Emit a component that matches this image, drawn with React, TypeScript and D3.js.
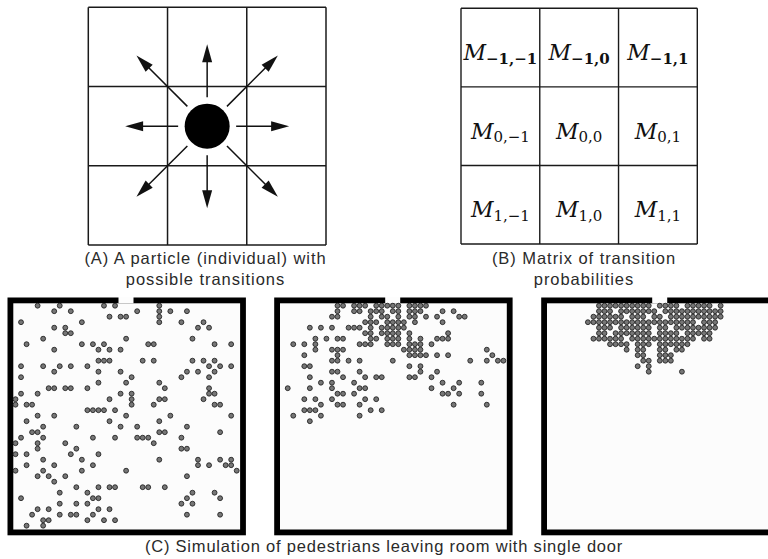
import React from "react";
import * as d3 from "d3";

// ---------- data ----------
const transitionSteps = [-1, 0, 1]; // row / column offsets of the Moore neighbourhood
const captionA = ["(A) A particle (individual) with", "possible transitions"];
const captionB = ["(B) Matrix of transition", "probabilities"];
const captionC = "(C) Simulation of pedestrians leaving room with single door";

// occupied cells per grid row: [row, columns[]]
const room1Rows: [number, number[]][] = [
  [0, [4, 8, 16, 18, 26]],
  [1, [7, 10, 22, 26, 28, 31]],
  [2, [17, 19, 20, 26]],
  [3, [1, 12, 26, 30, 34]],
  [4, [7, 9, 33, 35]],
  [5, [9, 10]],
  [6, [5, 20, 32]],
  [7, [2, 12, 14, 16, 24, 25, 36, 39]],
  [8, [7, 15, 17, 19]],
  [10, [15, 16, 17, 23, 25, 32, 34, 36]],
  [11, [1, 5, 8, 10, 13, 35, 37, 39]],
  [12, [7, 15, 19, 31, 33, 36]],
  [13, [1, 21, 30, 35]],
  [14, [15, 20, 26]],
  [15, [6, 7, 9, 10, 13, 27, 35]],
  [16, [1, 4, 19, 21, 35, 36]],
  [17, [0, 17, 21, 26, 27, 34]],
  [18, [0, 2, 3, 21, 25, 36, 37]],
  [19, [13, 14, 15, 16, 18]],
  [20, [4, 7, 20, 28, 39]],
  [21, [2, 17, 26]],
  [22, [5, 11, 19, 22, 31]],
  [23, [3, 4, 26, 27, 37]],
  [24, [1, 5, 14, 18, 22, 23, 24, 30]],
  [25, [0, 4, 9, 25]],
  [26, [4, 11, 30, 31]],
  [27, [0, 2, 10, 15]],
  [28, [5, 12, 26, 33, 37, 39]],
  [29, [2, 7, 14, 33, 35, 38, 39]],
  [30, [0, 5, 12, 20, 40]],
  [31, [4, 6, 9, 31]],
  [32, [7]],
  [33, [11, 15, 17, 18, 23, 24, 27]],
  [34, [8, 13, 32, 36]],
  [35, [1, 14, 15, 31, 37]],
  [36, [8, 11, 13, 30, 32]],
  [37, [4, 6, 15, 17]],
  [38, [3, 8, 10, 11, 14, 31, 37]],
  [39, [5, 6, 13, 16, 18]],
  [40, [2, 5]],
];

const room2Rows: [number, number[]][] = [
  [0, [10, 11, 13, 14, 15, 17, 18, 19, 20, 21, 23, 24, 25, 26]],
  [1, [10, 13, 14, 16, 17, 18, 20, 21, 23, 24, 25, 29, 31]],
  [2, [9, 10, 16, 18, 19, 21, 23, 24, 26, 28, 32, 33]],
  [3, [15, 16, 17, 19, 20, 21, 22, 24, 29]],
  [4, [5, 7, 9, 12, 13, 14, 16, 18, 19, 20, 21, 22]],
  [5, [15, 16, 18, 19, 20, 21, 23, 30]],
  [6, [6, 8, 10, 11, 16, 17, 19, 20, 21, 23, 25, 28, 29, 30]],
  [7, [2, 4, 6, 14, 15, 16, 19, 20, 21, 23, 24, 25, 27]],
  [8, [6, 9, 10, 11, 22, 23, 24, 25, 37]],
  [9, [4, 10, 23, 24, 25, 26, 28, 30, 38]],
  [10, [9, 10, 12, 14, 20, 34, 37, 39, 40]],
  [11, [4, 5, 23, 25]],
  [12, [9, 10, 14, 25, 28]],
  [13, [5, 11, 15, 17, 18, 23, 24, 27]],
  [14, [7, 9, 13, 29, 32, 36]],
  [15, [1, 5, 9, 14, 15, 27, 31]],
  [16, [10, 11, 13, 29, 30, 32, 36]],
  [17, [4, 6, 9, 15, 17]],
  [18, [7, 10, 11, 14, 31, 37]],
  [19, [4, 5, 6, 16, 18]],
  [20, [2, 7, 14]],
  [21, [5]],
];

const room3Rows: [number, number[]][] = [
  [0, [9, 10, 11, 12, 13, 14, 15, 16, 17, 18, 20, 21, 22, 23, 25, 26, 27, 28, 29, 31]],
  [1, [9, 10, 11, 13, 14, 15, 16, 17, 18, 19, 21, 22, 23, 24, 25, 26, 27, 28, 29, 30, 31]],
  [2, [8, 9, 10, 11, 12, 13, 15, 16, 17, 19, 20, 22, 23, 24, 25, 26, 27, 28, 29, 30, 31]],
  [3, [7, 8, 9, 10, 11, 12, 13, 14, 15, 16, 17, 18, 19, 20, 21, 22, 23, 24, 25, 26, 28, 29, 30]],
  [4, [9, 10, 11, 13, 14, 15, 16, 17, 18, 20, 21, 23, 24, 25, 26, 27, 28, 29, 30]],
  [5, [9, 10, 12, 13, 14, 15, 16, 17, 18, 20, 21, 22, 23, 25, 26, 27, 28, 29]],
  [6, [8, 9, 10, 11, 12, 13, 15, 16, 17, 18, 19, 20, 21, 22, 23, 24, 25, 26, 28, 29]],
  [7, [11, 12, 13, 14, 16, 17, 18, 20, 21, 22, 23, 24, 25]],
  [8, [14, 16, 17, 20, 21, 23, 24]],
  [9, [16, 17, 20, 21, 22]],
  [10, [17, 18, 20, 21, 22]],
  [11, [16, 18]],
  [12, [18, 24]],
];

const rooms = [room1Rows, room2Rows, room3Rows];

// ---------- layout ----------
const W = 768;
const H = 559;
const SANS = "'Liberation Sans', Arial, Helvetica, sans-serif";
const SERIF = "'DejaVu Serif', 'Liberation Serif', serif";
const TEXT_COLOR = "#2a2a2a";

const fmt = (n: number) => (n < 0 ? "\u2212" + Math.abs(n) : String(n));

function Arrow({ x1, y1, x2, y2 }: { x1: number; y1: number; x2: number; y2: number }) {
  const ang = Math.atan2(y2 - y1, x2 - x1);
  const L = 18;
  const hw = 5;
  const bx = x2 - L * Math.cos(ang);
  const by = y2 - L * Math.sin(ang);
  const px = -Math.sin(ang) * hw;
  const py = Math.cos(ang) * hw;
  return (
    <g>
      <line x1={x1} y1={y1} x2={bx + 2 * Math.cos(ang)} y2={by + 2 * Math.sin(ang)} stroke="#111" strokeWidth={1.5} />
      <polygon points={`${x2},${y2} ${bx + px},${by + py} ${bx - px},${by - py}`} fill="#111" />
    </g>
  );
}

function PanelA() {
  const gx = d3.scaleLinear().domain([0, 3]).range([88.3, 326]);
  const gy = d3.scaleLinear().domain([0, 3]).range([7.3, 245]);
  const cx = gx(1.5);
  const cy = gy(1.5);
  const lines = d3.range(4);
  const arrows: { dr: number; dc: number }[] = [];
  transitionSteps.forEach((dr) =>
    transitionSteps.forEach((dc) => {
      if (dr !== 0 || dc !== 0) arrows.push({ dr, dc });
    })
  );
  return (
    <g>
      {lines.map((i) => (
        <line key={"v" + i} x1={gx(i)} x2={gx(i)} y1={gy(0)} y2={gy(3)} stroke="#1a1a1a" strokeWidth={1.5} />
      ))}
      {lines.map((i) => (
        <line key={"h" + i} y1={gy(i)} y2={gy(i)} x1={gx(0)} x2={gx(3)} stroke="#1a1a1a" strokeWidth={1.5} />
      ))}
      {arrows.map(({ dr, dc }, i) => {
        const diag = dr !== 0 && dc !== 0;
        const len = Math.hypot(dr, dc);
        const ux = dc / len;
        const uy = dr / len;
        const r0 = diag ? 28 : 29;
        const r1 = diag ? 100 : 82;
        return <Arrow key={i} x1={cx + ux * r0} y1={cy + uy * r0} x2={cx + ux * r1} y2={cy + uy * r1} />;
      })}
      <circle cx={cx} cy={cy} r={22.5} fill="#000" />
      {captionA.map((t, i) => (
        <text key={i} x={205.5} y={264 + i * 20.5} textAnchor="middle" fontFamily={SANS} fontSize={16.5}
          letterSpacing={0.95} fill={TEXT_COLOR}>{t}</text>
      ))}
    </g>
  );
}

function PanelB() {
  const gx = d3.scaleLinear().domain([0, 3]).range([461, 697.3]);
  const gy = d3.scaleLinear().domain([0, 3]).range([8.3, 244]);
  const lines = d3.range(4);
  return (
    <g>
      {lines.map((i) => (
        <line key={"v" + i} x1={gx(i)} x2={gx(i)} y1={gy(0)} y2={gy(3)} stroke="#1a1a1a" strokeWidth={1.4} />
      ))}
      {lines.map((i) => (
        <line key={"h" + i} y1={gy(i)} y2={gy(i)} x1={gx(0)} x2={gx(3)} stroke="#1a1a1a" strokeWidth={1.4} />
      ))}
      {transitionSteps.map((r, ri) =>
        transitionSteps.map((c, ci) => (
          <text key={ri + "-" + ci} x={gx(ci + 0.5)} y={gy(ri + 0.5) + 12.5} textAnchor="middle" fill="#111"
            fontFamily={SERIF}>
            <tspan fontStyle="italic" fontSize={22}>M</tspan>
            <tspan fontSize={15} dy={3.5} fontWeight={r === -1 ? "bold" : "normal"}>{fmt(r) + "," + fmt(c)}</tspan>
          </text>
        ))
      )}
      {captionB.map((t, i) => (
        <text key={i} x={584} y={264 + i * 20.5} textAnchor="middle" fontFamily={SANS} fontSize={16.5}
          letterSpacing={0.95} fill={TEXT_COLOR}>{t}</text>
      ))}
    </g>
  );
}

function Room({ rows, innerLeft }: { rows: [number, number[]][]; innerLeft: number }) {
  const wall = 5.8;
  const innerW = 226.8;
  const innerTop = 303.3;
  const innerBottom = 529.5;
  const doorX = innerLeft + 105.2;
  const doorW = 15;
  const x = d3.scaleLinear().domain([0, 40]).range([innerLeft + 2.2, innerLeft + 2.2 + 40 * 5.53]);
  const y = d3.scaleLinear().domain([0, 40]).range([305.7, 305.7 + 40 * 5.5]);
  const dots: { r: number; c: number }[] = [];
  rows.forEach(([r, cols]) => cols.forEach((c) => dots.push({ r, c })));
  return (
    <g>
      <rect x={innerLeft - wall} y={innerTop - wall} width={innerW + 2 * wall} height={innerBottom - innerTop + 2 * wall} fill="#000" />
      <rect x={innerLeft} y={innerTop} width={innerW} height={innerBottom - innerTop} fill="#fcfcfc" />
      <rect x={doorX} y={innerTop - wall - 0.5} width={doorW} height={wall + 0.5} fill="#fdfdfd" />
      {dots.map((d, i) => (
        <circle key={i} cx={x(d.c)} cy={y(d.r)} r={2.45} fill="#767676" stroke="#1c1c1c" strokeWidth={0.85} />
      ))}
    </g>
  );
}

export default function App() {
  const roomLefts = [13.3, 280, 547];
  return (
    <svg width={W} height={H} viewBox={`0 0 ${W} ${H}`}
      style={{ position: "absolute", left: 0, top: 0, background: "#fff" }}>
      <rect x={0} y={0} width={W} height={H} fill="#fff" />
      <PanelA />
      <PanelB />
      {rooms.map((rows, i) => (
        <Room key={i} rows={rows} innerLeft={roomLefts[i]} />
      ))}
      <text x={384} y={552} textAnchor="middle" fontFamily={SANS} fontSize={16.5} letterSpacing={0.8}
        fill={TEXT_COLOR}>{captionC}</text>
    </svg>
  );
}
